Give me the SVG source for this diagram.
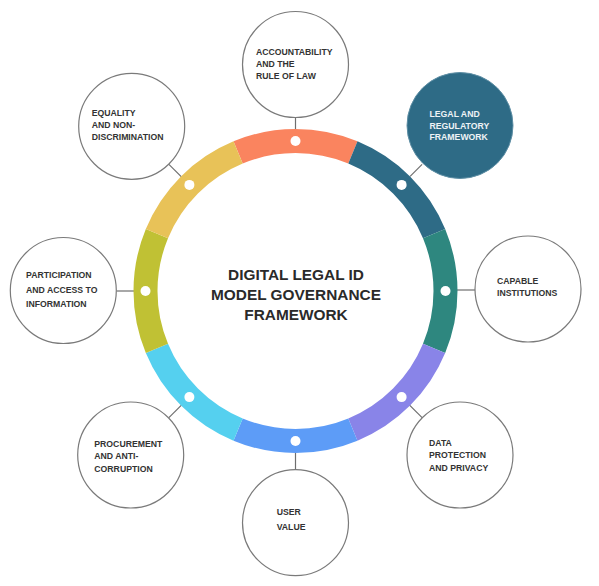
<svg xmlns="http://www.w3.org/2000/svg" width="599" height="586" viewBox="0 0 599 586">
<style>
.node{fill:#ffffff;stroke:#7a7a7a;stroke-width:1.2}
.seg{fill:none;stroke-width:24;stroke-linecap:butt}
.dot{fill:#ffffff}
.conn{stroke:#6e6e6e;stroke-width:1.2;fill:none}
.lbl{font-family:"Liberation Sans",Arial,sans-serif;font-weight:bold;font-size:8.7px;fill:#333333}
.title{font-family:"Liberation Sans",Arial,sans-serif;font-weight:bold;font-size:15.4px;fill:#2a2a2a;text-anchor:middle}
</style>
<rect width="599" height="586" fill="#ffffff"/>
<g id="connectors">
<line class="conn" x1="295.5" y1="130" x2="295.5" y2="117.5"/>
<line class="conn" x1="410.1" y1="176.4" x2="422.1" y2="164.4"/>
<line class="conn" x1="456.5" y1="290" x2="475" y2="290"/>
<line class="conn" x1="409.3" y1="404.8" x2="422.1" y2="417.6"/>
<line class="conn" x1="295.5" y1="452" x2="295.5" y2="470"/>
<line class="conn" x1="181.7" y1="404.8" x2="168.9" y2="417.6"/>
<line class="conn" x1="134.5" y1="291" x2="116.5" y2="291"/>
<line class="conn" x1="181.7" y1="177.2" x2="168.9" y2="164.4"/>
</g>
<g id="ring">
<path class="seg" stroke="#fa845f" d="M238.10,152.42 A150,150 0 0 1 352.90,152.42"/>
<path class="seg" stroke="#2e6b86" d="M352.90,152.42 A150,150 0 0 1 434.08,233.60"/>
<path class="seg" stroke="#2e877f" d="M434.08,233.60 A150,150 0 0 1 434.08,348.40"/>
<path class="seg" stroke="#8984e8" d="M434.08,348.40 A150,150 0 0 1 352.90,429.58"/>
<path class="seg" stroke="#5d9cf7" d="M352.90,429.58 A150,150 0 0 1 238.10,429.58"/>
<path class="seg" stroke="#55d0ef" d="M238.10,429.58 A150,150 0 0 1 156.92,348.40"/>
<path class="seg" stroke="#c0c134" d="M156.92,348.40 A150,150 0 0 1 156.92,233.60"/>
<path class="seg" stroke="#e8c258" d="M156.92,233.60 A150,150 0 0 1 238.10,152.42"/>
<circle class="dot" cx="295.5" cy="141" r="5"/>
<circle class="dot" cx="401.6" cy="184.9" r="5"/>
<circle class="dot" cx="445.5" cy="291" r="5"/>
<circle class="dot" cx="401.6" cy="397.1" r="5"/>
<circle class="dot" cx="295.5" cy="441" r="5"/>
<circle class="dot" cx="189.4" cy="397.1" r="5"/>
<circle class="dot" cx="145.5" cy="291" r="5"/>
<circle class="dot" cx="189.4" cy="184.9" r="5"/>
</g>
<g id="center">
<text class="title" x="296" y="280">DIGITAL LEGAL ID</text>
<text class="title" x="296" y="300">MODEL GOVERNANCE</text>
<text class="title" x="296" y="320">FRAMEWORK</text>
</g>
<g id="accountability">
<circle class="node" cx="295.5" cy="64.5" r="53"/>
<text class="lbl" x="256" y="55">ACCOUNTABILITY</text>
<text class="lbl" x="256" y="67">AND THE</text>
<text class="lbl" x="256" y="79">RULE OF LAW</text>
</g>
<g id="legal">
<circle cx="460" cy="125.5" r="53" fill="#2e6b86" stroke="#5f8fa5" stroke-width="1"/>
<text class="lbl" x="429.5" y="116.7" fill="#eef3f6" style="fill:#eef3f6">LEGAL AND</text>
<text class="lbl" x="429.5" y="128.5" style="fill:#eef3f6">REGULATORY</text>
<text class="lbl" x="429.5" y="140.3" style="fill:#eef3f6">FRAMEWORK</text>
</g>
<g id="capable">
<circle class="node" cx="528" cy="289" r="53"/>
<text class="lbl" x="497" y="283.5">CAPABLE</text>
<text class="lbl" x="497" y="295.7">INSTITUTIONS</text>
</g>
<g id="data">
<circle class="node" cx="460" cy="455" r="53"/>
<text class="lbl" x="429" y="446">DATA</text>
<text class="lbl" x="429" y="458.3">PROTECTION</text>
<text class="lbl" x="429" y="470.7">AND PRIVACY</text>
</g>
<g id="user">
<circle class="node" cx="295.5" cy="522.7" r="53"/>
<text class="lbl" x="276.7" y="515">USER</text>
<text class="lbl" x="276.7" y="530">VALUE</text>
</g>
<g id="procurement">
<circle class="node" cx="130.7" cy="455" r="53"/>
<text class="lbl" x="94.3" y="446.7">PROCUREMENT</text>
<text class="lbl" x="94.3" y="459.3">AND ANTI-</text>
<text class="lbl" x="94.3" y="471.7">CORRUPTION</text>
</g>
<g id="participation">
<circle class="node" cx="63.3" cy="290.5" r="53"/>
<text class="lbl" x="26" y="278.3">PARTICIPATION</text>
<text class="lbl" x="26" y="292.7">AND ACCESS TO</text>
<text class="lbl" x="26" y="306.7">INFORMATION</text>
</g>
<g id="equality">
<circle class="node" cx="131.7" cy="126.3" r="53"/>
<text class="lbl" x="91.7" y="116">EQUALITY</text>
<text class="lbl" x="91.7" y="128">AND NON-</text>
<text class="lbl" x="91.7" y="140">DISCRIMINATION</text>
</g>
</svg>
